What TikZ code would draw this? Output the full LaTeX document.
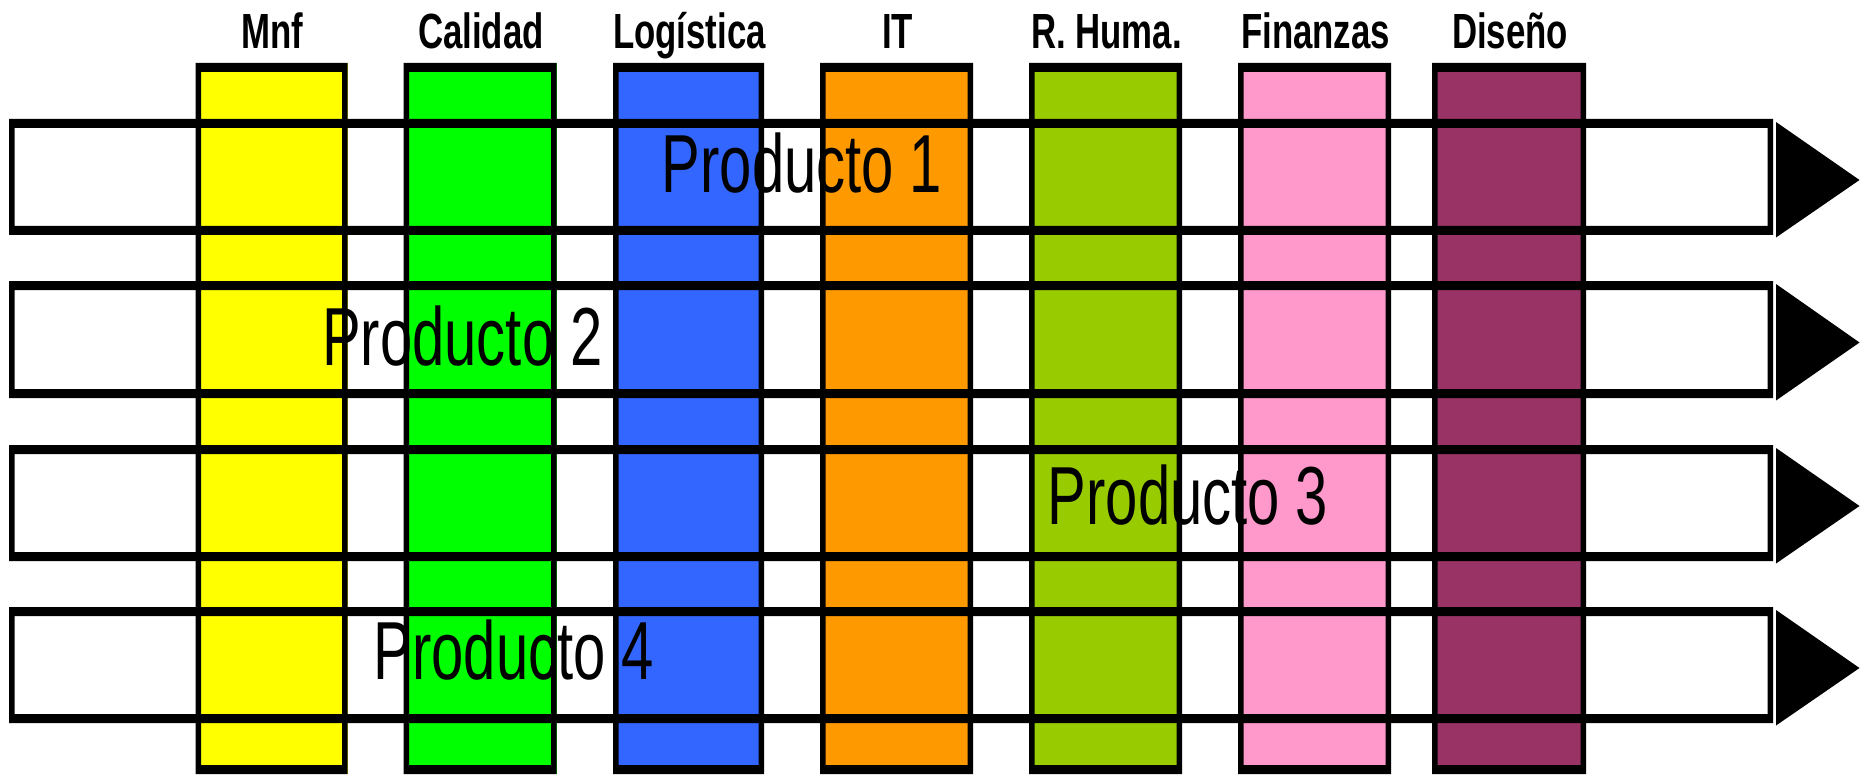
\documentclass[tikz,border=0pt]{standalone}
\usepackage{fontspec}
\setmainfont{Liberation Sans}
\usepackage{tikz}

\definecolor{amarillo}{HTML}{FFFF00}
\definecolor{verde}{HTML}{00FF00}
\definecolor{azul}{HTML}{3366FF}
\definecolor{naranja}{HTML}{FF9900}
\definecolor{oliva}{HTML}{99CC00}
\definecolor{rosa}{HTML}{FF99CC}
\definecolor{vino}{HTML}{993366}

\newcommand{\alto}[1]{\scalebox{1}[1.42]{#1}}
\newcommand{\marco}[4]{%
  \fill[even odd rule] (#1,#2) rectangle (#3,#4)
    ({#1+\bv},{#2+\bh}) rectangle ({#3-\bv},{#4-\bh});}

\begin{document}
\begin{tikzpicture}[x=0.5pt, y=-0.5pt,
    area/.style={font=\bfseries\fontsize{17.4}{20}\selectfont, anchor=base, inner sep=0pt},
    prod/.style={font=\fontsize{29}{32}\selectfont, anchor=base, inner sep=0pt}]
  \pgfmathsetmacro{\bv}{5.5};
  \pgfmathsetmacro{\bh}{9};

  \useasboundingbox (0,0) rectangle (1862,775);

  \foreach \xa/\xb/\col/\nom/\txt in {195.5/347.5/amarillo/mnf/Mnf,
      403.5/556.5/verde/cal/Calidad, 613/764/azul/log/Logística,
      820/973/naranja/it/IT, 1029/1182/oliva/rh/R. Huma.,
      1238/1391/rosa/fin/Finanzas, 1432/1586/vino/dis/Diseño}{
    \fill[\col] (\xa,63) rectangle (\xb,774);
    \marco{\xa}{63}{\xb}{774}
    \node[area] (\nom) at ({(\xa+\xb)/2+1},48.3) {\alto{\txt}};
  }

  \foreach \ya/\yb in {119/235, 281/398, 445/561, 607/723}{
    \marco{9}{\ya}{1773}{\yb}
    \fill (1776,\ya+3) -- (1859.5,{(\ya+\yb)/2+3}) -- (1776,\yb+2.5) -- cycle;
  }

  \node[prod] (p1) at (802,192.7) {\alto{Producto 1}};
  \node[prod] (p2) at (462.5,365) {\alto{Producto 2}};
  \node[prod] (p3) at (1188,524) {\alto{Producto 3}};
  \node[prod] (p4) at (514,679) {\alto{Producto 4}};
\end{tikzpicture}
\end{document}
